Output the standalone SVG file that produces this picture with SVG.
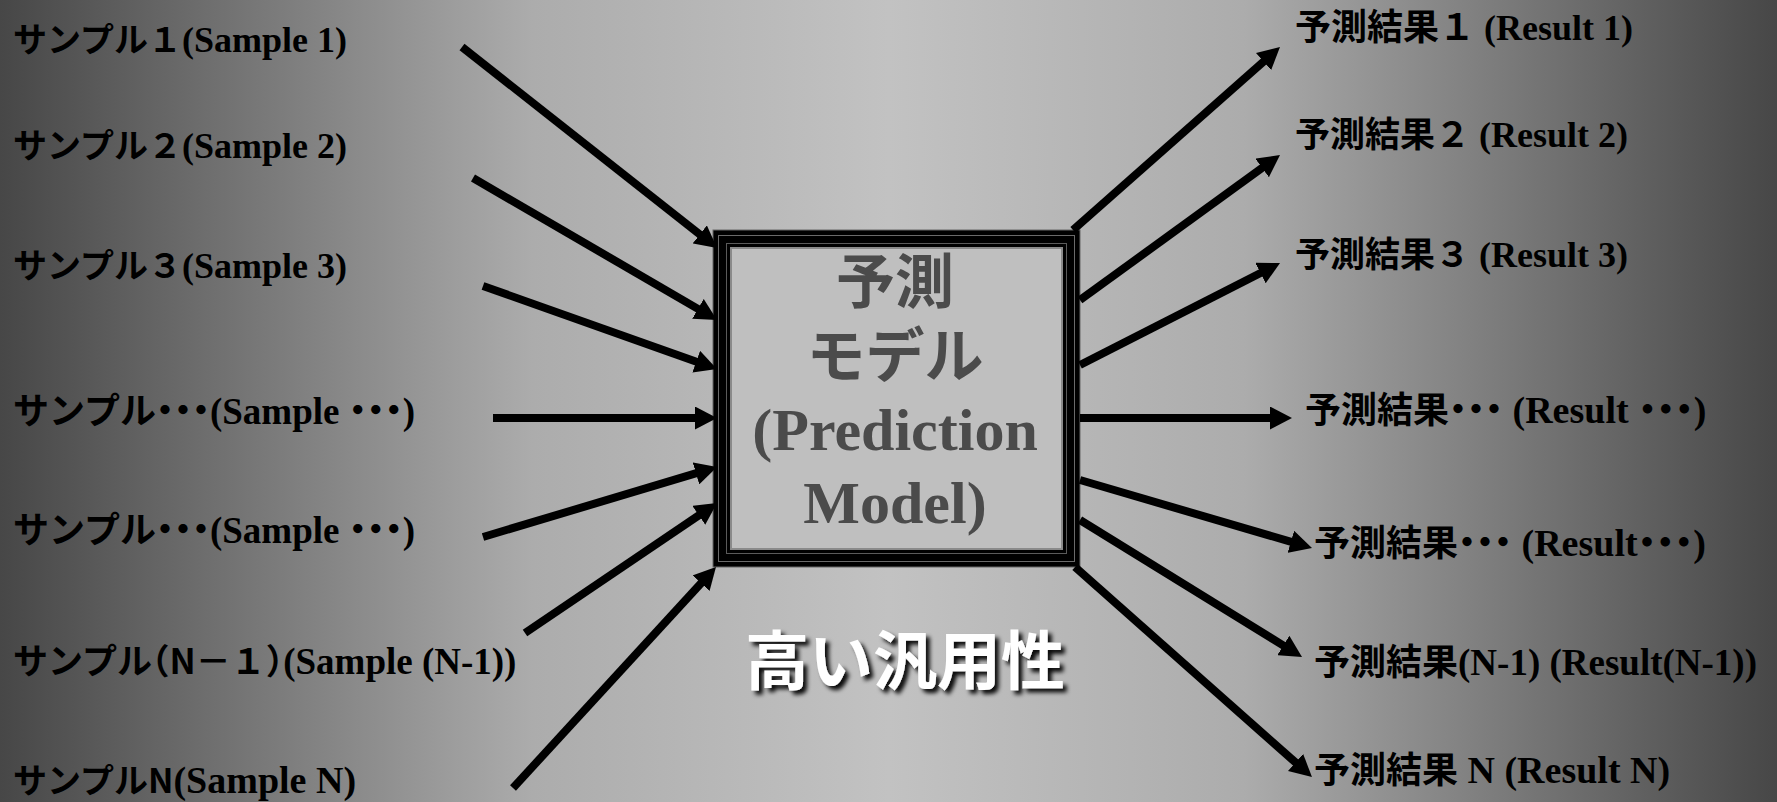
<svg xmlns="http://www.w3.org/2000/svg" width="1777" height="802" viewBox="0 0 1777 802">
<style>
.jp{font-family:"Noto Sans CJK JP","Noto Sans",sans-serif;font-weight:700;font-feature-settings:"halt" 1;}
.en{font-family:"Liberation Serif","Times New Roman",serif;font-weight:700;}
.lbl{fill:#000;}
.cl{fill:#4b4b4b;text-anchor:middle;}
.arr{stroke:#000;stroke-width:8;fill:none;marker-end:url(#ah);}
</style>
<defs>
<linearGradient id="bg" x1="0" y1="0" x2="1" y2="0">
<stop offset="0" stop-color="#474747"/>
<stop offset="0.01" stop-color="#4a4a4a"/>
<stop offset="0.3" stop-color="#acacac"/>
<stop offset="0.5" stop-color="#c2c2c2"/>
<stop offset="0.7" stop-color="#acacac"/>
<stop offset="0.99" stop-color="#4a4a4a"/>
<stop offset="1" stop-color="#474747"/>
</linearGradient>
<marker id="ah" markerUnits="userSpaceOnUse" markerWidth="22" markerHeight="23" refX="4" refY="11.5" orient="auto" viewBox="0 0 22 23">
<path d="M0,0 L22,11.5 L0,23 z" fill="#000"/>
</marker>
<filter id="sh" x="-10%" y="-20%" width="130%" height="150%">
<feDropShadow dx="4" dy="4" stdDeviation="2.2" flood-color="#000" flood-opacity="0.95"/>
</filter>
</defs>
<rect x="0" y="0" width="1777" height="802" fill="url(#bg)"/>

<g id="model">
<rect x="713" y="230" width="367" height="337" fill="#000" stroke="#666" stroke-width="1"/>
<rect x="718.5" y="235.5" width="356" height="326" fill="none" stroke="#6a6a6a" stroke-width="1"/>
<rect x="726.5" y="243.5" width="340" height="310" fill="none" stroke="#5a5a5a" stroke-width="1"/>
<rect x="731" y="248" width="331" height="301" fill="#bfbfbf" stroke="#8a8a8a" stroke-width="2"/>
<text class="cl"><tspan class="jp" x="895" y="303" font-size="59">予測</tspan><tspan class="jp" x="895" y="377" font-size="59">モデル</tspan><tspan class="en" x="895" y="450" font-size="60">(Prediction</tspan><tspan class="en" x="895" y="523" font-size="60">Model)</tspan></text>
</g>

<g id="generality">
<text class="jp" x="905" y="684" font-size="64" fill="#fff" text-anchor="middle" filter="url(#sh)">高い汎用性</text>
</g>

<g id="samples" class="lbl">
<g id="sample1"><text x="13" y="52"><tspan class="jp" font-size="34">サンプル１</tspan><tspan class="en" font-size="36">(Sample 1)</tspan></text></g>
<g id="sample2"><text x="13" y="158"><tspan class="jp" font-size="34">サンプル２</tspan><tspan class="en" font-size="36">(Sample 2)</tspan></text></g>
<g id="sample3"><text x="13" y="278"><tspan class="jp" font-size="34">サンプル３</tspan><tspan class="en" font-size="36">(Sample 3)</tspan></text></g>
<g id="sample4"><text x="13" y="424"><tspan class="jp" font-size="36">サンプル・・・</tspan><tspan class="en" font-size="37">(Sample </tspan><tspan class="jp" font-size="36">・・・</tspan><tspan class="en" font-size="37">)</tspan></text></g>
<g id="sample5"><text x="13" y="543"><tspan class="jp" font-size="36">サンプル・・・</tspan><tspan class="en" font-size="37">(Sample </tspan><tspan class="jp" font-size="36">・・・</tspan><tspan class="en" font-size="37">)</tspan></text></g>
<g id="sample6"><text x="13" y="674"><tspan class="jp" font-size="35">サンプル（N－１）</tspan><tspan class="en" font-size="37">(Sample (N-1))</tspan></text></g>
<g id="sample7"><text x="13" y="793"><tspan class="jp" font-size="34">サンプルN</tspan><tspan class="en" font-size="38">(Sample N)</tspan></text></g>
</g>

<g id="results" class="lbl">
<g id="result1"><text x="1295" y="40"><tspan class="jp" font-size="36">予測結果１</tspan><tspan class="en" font-size="36"> (Result 1)</tspan></text></g>
<g id="result2"><text x="1295" y="147"><tspan class="jp" font-size="35">予測結果２</tspan><tspan class="en" font-size="36"> (Result 2)</tspan></text></g>
<g id="result3"><text x="1295" y="267"><tspan class="jp" font-size="35">予測結果３</tspan><tspan class="en" font-size="36"> (Result 3)</tspan></text></g>
<g id="result4"><text x="1305" y="423"><tspan class="jp" font-size="36">予測結果・・・</tspan><tspan class="en" font-size="38"> (Result </tspan><tspan class="jp" font-size="37">・・・</tspan><tspan class="en" font-size="38">)</tspan></text></g>
<g id="result5"><text x="1314" y="556"><tspan class="jp" font-size="36">予測結果・・・</tspan><tspan class="en" font-size="38"> (Result</tspan><tspan class="jp" font-size="37">・・・</tspan><tspan class="en" font-size="38">)</tspan></text></g>
<g id="result6"><text x="1314" y="675"><tspan class="jp" font-size="36">予測結果</tspan><tspan class="en" font-size="37">(N-1) (Result(N-1))</tspan></text></g>
<g id="result7"><text x="1314" y="783"><tspan class="jp" font-size="36">予測結果</tspan><tspan class="en" font-size="38"> N (Result N)</tspan></text></g>
</g>

<g id="connectors">
<line class="arr" x1="462" y1="47" x2="702.9" y2="236.9"/>
<line class="arr" x1="473" y1="178" x2="701.4" y2="310.9"/>
<line class="arr" x1="483" y1="286" x2="700" y2="363"/>
<line class="arr" x1="493" y1="418" x2="699" y2="418"/>
<line class="arr" x1="483" y1="537" x2="699.8" y2="472.2"/>
<line class="arr" x1="525" y1="633" x2="702.1" y2="513.1"/>
<line class="arr" x1="513" y1="788" x2="703.8" y2="580.2"/>
<line class="arr" x1="1073" y1="230" x2="1266.5" y2="58.9"/>
<line class="arr" x1="1080" y1="300" x2="1265.4" y2="165.6"/>
<line class="arr" x1="1080" y1="365" x2="1264" y2="271.2"/>
<line class="arr" x1="1080" y1="418" x2="1274" y2="418"/>
<line class="arr" x1="1080" y1="480" x2="1294.7" y2="542.9"/>
<line class="arr" x1="1080" y1="520" x2="1286.7" y2="647.6"/>
<line class="arr" x1="1075" y1="567" x2="1298.5" y2="765.1"/>
</g>
</svg>
